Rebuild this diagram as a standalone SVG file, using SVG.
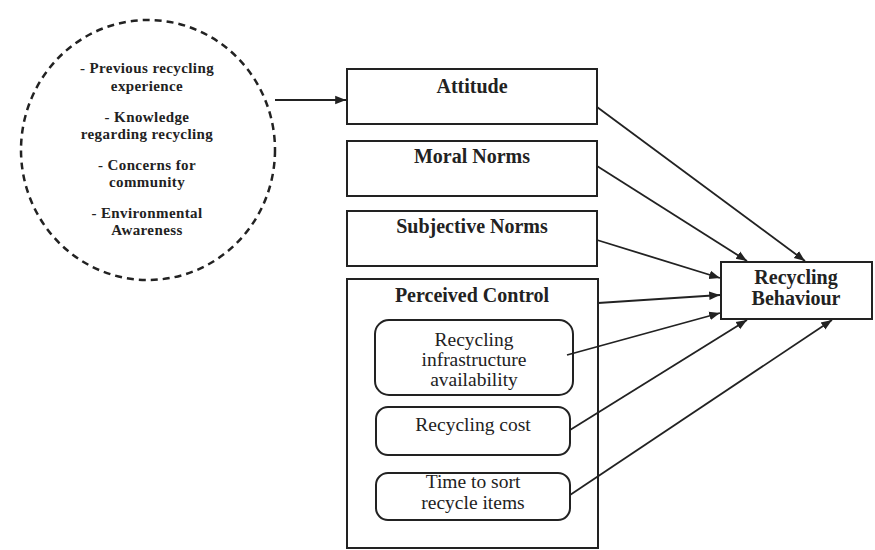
<svg xmlns="http://www.w3.org/2000/svg" width="875" height="550" viewBox="0 0 875 550">
<style>
.box{fill:#fff;stroke:#222;stroke-width:2}
.rbox{fill:#fff;stroke:#222;stroke-width:2}
.lb{font-family:'Liberation Serif','DejaVu Serif',serif;font-weight:bold;font-size:20px;fill:#222;text-anchor:middle}
.el{font-family:'Liberation Serif','DejaVu Serif',serif;font-weight:bold;font-size:15px;letter-spacing:0.4px;fill:#222;text-anchor:middle}
.in{font-family:'Liberation Serif','DejaVu Serif',serif;font-size:19.5px;fill:#222;text-anchor:middle}
.cn{stroke:#222;stroke-width:1.8;fill:none;marker-end:url(#ah)}
</style>
<defs>
<marker id="ah" viewBox="0 0 10 10" refX="10" refY="5" markerWidth="6" markerHeight="6" markerUnits="strokeWidth" orient="auto">
<path d="M0,1 L10,5 L0,9 z" fill="#222"/>
</marker>
</defs>
<rect width="875" height="550" fill="#fff"/>
<g id="factors">
<ellipse cx="148" cy="150" rx="127" ry="130" fill="none" stroke="#222" stroke-width="2.5" stroke-dasharray="7 5"/>
<text class="el" x="147" y="73">- Previous recycling</text>
<text class="el" x="147" y="91">experience</text>
<text class="el" x="147" y="122">- Knowledge</text>
<text class="el" x="147" y="139">regarding recycling</text>
<text class="el" x="147" y="170">- Concerns for</text>
<text class="el" x="147" y="187">community</text>
<text class="el" x="147" y="218">- Environmental</text>
<text class="el" x="147" y="235">Awareness</text>
</g>
<g id="attitude">
<rect class="box" x="347" y="69" width="250" height="55"/>
<text class="lb" x="472" y="93">Attitude</text>
</g>
<g id="moral">
<rect class="box" x="347" y="141" width="250" height="55"/>
<text class="lb" x="472" y="163">Moral Norms</text>
</g>
<g id="subjective">
<rect class="box" x="347" y="211" width="250" height="55"/>
<text class="lb" x="472" y="233">Subjective Norms</text>
</g>
<g id="perceived">
<rect class="box" x="347" y="279" width="251" height="269"/>
<text class="lb" x="472" y="302">Perceived Control</text>
</g>
<g id="infra">
<rect class="rbox" x="375" y="320" width="198" height="75" rx="14"/>
<text class="in" x="474" y="346">Recycling</text>
<text class="in" x="474" y="366">infrastructure</text>
<text class="in" x="474" y="386">availability</text>
</g>
<g id="cost">
<rect class="rbox" x="376" y="407" width="194" height="48" rx="12"/>
<text class="in" x="473" y="431">Recycling cost</text>
</g>
<g id="time">
<rect class="rbox" x="376" y="473" width="194" height="47" rx="12"/>
<text class="in" x="473" y="488">Time to sort</text>
<text class="in" x="473" y="509">recycle items</text>
</g>
<g id="behaviour">
<rect class="box" x="721" y="262" width="151" height="57"/>
<text class="lb" x="796" y="284">Recycling</text>
<text class="lb" x="796" y="305">Behaviour</text>
</g>
<g id="connectors">
<line class="cn" x1="275" y1="100" x2="346" y2="100"/>
<line class="cn" x1="597" y1="107" x2="805" y2="261"/>
<line class="cn" x1="597" y1="166" x2="747" y2="261"/>
<line class="cn" x1="597" y1="240" x2="720" y2="278"/>
<line class="cn" x1="598" y1="303" x2="720" y2="295"/>
<line class="cn" x1="567" y1="355" x2="720" y2="313"/>
<line class="cn" x1="570" y1="430" x2="747" y2="320"/>
<line class="cn" x1="570" y1="495" x2="832" y2="320"/>
</g>
</svg>
